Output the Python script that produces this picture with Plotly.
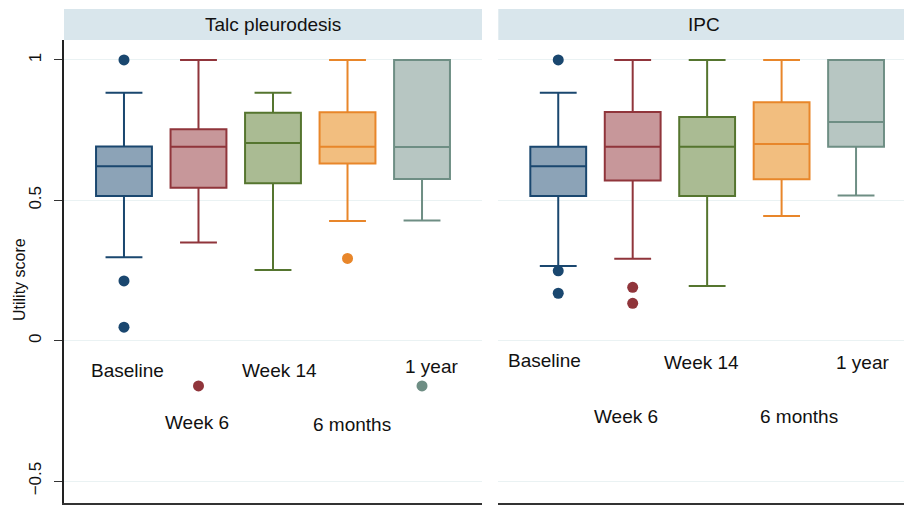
import plotly.graph_objects as go

# ---------------- data ----------------
categories = ["Baseline", "Week 6", "Week 14", "6 months", "1 year"]
panels = ["Talc pleurodesis", "IPC"]

talc_q1 = [0.515, 0.545, 0.561, 0.631, 0.576]
talc_median = [0.621, 0.691, 0.704, 0.691, 0.690]
talc_q3 = [0.692, 0.753, 0.812, 0.814, 1.000]
talc_lower = [0.297, 0.350, 0.252, 0.426, 0.428]
talc_upper = [0.883, 1.000, 0.883, 1.000, 1.000]
talc_outliers = [[1.0, 0.213, 0.048], [-0.161], [], [0.293], [-0.161]]

ipc_q1 = [0.515, 0.571, 0.515, 0.575, 0.691]
ipc_median = [0.621, 0.691, 0.691, 0.701, 0.779]
ipc_q3 = [0.691, 0.815, 0.797, 0.849, 1.000]
ipc_lower = [0.266, 0.292, 0.195, 0.444, 0.517]
ipc_upper = [0.883, 1.000, 1.000, 1.000, 1.000]
ipc_outliers = [[1.0, 0.249, 0.169], [0.190, 0.133], [], [], []]

y_ticks = [-0.5, 0, 0.5, 1]
y_tick_text = ["\u22120.5", "0", "0.5", "1"]

# ---------------- styles / layout positions ----------------
line_colors = ["#1a476f", "#90353b", "#55752f", "#e8862a", "#6e8e84"]
fill_colors = ["#8ca3b7", "#c7979a", "#aabb93", "#f2be7f", "#b7c6c2"]

# category-label placement (x offset in category units, y in data units)
talc_label_pos = [(0.05, -0.107), (0.98, -0.29), (2.09, -0.107), (3.06, -0.297), (4.13, -0.093)]
ipc_label_pos = [(-0.18, -0.069), (0.91, -0.27), (1.93, -0.078), (3.23, -0.27), (4.09, -0.078)]

W, H = 904, 506
FONT = "Helvetica, Arial, Liberation Sans, sans-serif"

fig = go.Figure()

def add_panel(xa, ya, q1, med, q3, lo, up, outl):
    for i, cat in enumerate(categories):
        fig.add_trace(go.Box(
            x=[cat], q1=[q1[i]], median=[med[i]], q3=[q3[i]],
            lowerfence=[lo[i]], upperfence=[up[i]],
            width=0.75, whiskerwidth=0.66,
            fillcolor=fill_colors[i],
            line=dict(color=line_colors[i], width=2),
            boxpoints=False, showlegend=False, hoverinfo="skip",
            xaxis=xa, yaxis=ya,
        ))
        if outl[i]:
            fig.add_trace(go.Scatter(
                x=[cat] * len(outl[i]), y=outl[i], mode="markers",
                marker=dict(color=line_colors[i], size=11),
                showlegend=False, hoverinfo="skip", xaxis=xa, yaxis=ya,
            ))

add_panel("x", "y", talc_q1, talc_median, talc_q3, talc_lower, talc_upper, talc_outliers)
add_panel("x2", "y2", ipc_q1, ipc_median, ipc_q3, ipc_lower, ipc_upper, ipc_outliers)

def px_x(p):
    return p / W

def px_y(p):
    return 1 - p / H

y_top_px, y_bot_px = 40, 503
y_range = [-0.578, 1.071]

common_x = dict(
    type="category", categoryorder="array", categoryarray=categories,
    showticklabels=False, ticks="", showgrid=False, zeroline=False,
    showline=True, linecolor="#333333", linewidth=1.5,
)
fig.update_layout(
    width=W, height=H, margin=dict(l=0, r=0, t=0, b=0),
    paper_bgcolor="white", plot_bgcolor="white",
    font=dict(family=FONT, color="#111111"),
    boxmode="overlay",
    xaxis=dict(domain=[px_x(64), px_x(482)], range=[-0.805, 4.805], **common_x),
    xaxis2=dict(domain=[px_x(498.3), 1.0], range=[-0.805, 4.644], **common_x),
    yaxis=dict(
        domain=[px_y(y_bot_px), px_y(y_top_px)], range=y_range,
        tickvals=y_ticks, ticktext=y_tick_text, tickangle=-90,
        tickfont=dict(size=17, color="#111111"),
        ticks="outside", ticklen=8, tickcolor="#333333", tickwidth=1.2,
        showline=True, linecolor="#222222", linewidth=1.5,
        showgrid=True, gridcolor="#eaf2f3", gridwidth=1.2, zeroline=False,
        ticklabelstandoff=6,
    ),
    yaxis2=dict(
        domain=[px_y(y_bot_px), px_y(y_top_px)], range=y_range, matches="y",
        tickvals=y_ticks, showticklabels=False, ticks="",
        showline=False, showgrid=True, gridcolor="#eaf2f3", gridwidth=1.2, zeroline=False,
    ),
)

# strips
shapes = []
annotations = []
for xa, x0, x1, cx, title in [("x", 64, 482, 273, panels[0]), ("x2", 498.3, 904, 704, panels[1])]:
    shapes.append(dict(type="rect", xref="paper", yref="paper",
                       x0=px_x(x0), x1=px_x(x1), y0=px_y(40), y1=px_y(9),
                       fillcolor="#d9e6ec", line=dict(width=0), layer="below"))
    annotations.append(dict(xref="paper", yref="paper", x=px_x(cx), y=px_y(24.5),
                            text=title, showarrow=False, font=dict(size=19, color="#111111"),
                            xanchor="center", yanchor="middle"))

# category labels inside plot
for xa, ya, pos in [("x", "y", talc_label_pos), ("x2", "y2", ipc_label_pos)]:
    for i, cat in enumerate(categories):
        annotations.append(dict(xref=xa, yref=ya, x=pos[i][0], y=pos[i][1], text=cat,
                                showarrow=False, font=dict(size=19, color="#111111"),
                                xanchor="center", yanchor="middle"))

# y-axis title
annotations.append(dict(xref="paper", yref="paper", x=px_x(19), y=px_y(280),
                        text="Utility score", textangle=-90, showarrow=False,
                        font=dict(size=16, color="#111111"), xanchor="center", yanchor="middle"))

fig.update_layout(shapes=shapes, annotations=annotations)
fig.write_html("out.html", config={"displayModeBar": False})

# remove the default page margin so the figure sits at the window's origin
with open("out.html", "r", encoding="utf-8") as f:
    html = f.read()
html = html.replace("<body>", '<body style="margin:0;padding:0;overflow:hidden">', 1)
html = html.replace("<head>", '<head><style>html,body{margin:0;padding:0;}</style>', 1)
with open("out.html", "w", encoding="utf-8") as f:
    f.write(html)
